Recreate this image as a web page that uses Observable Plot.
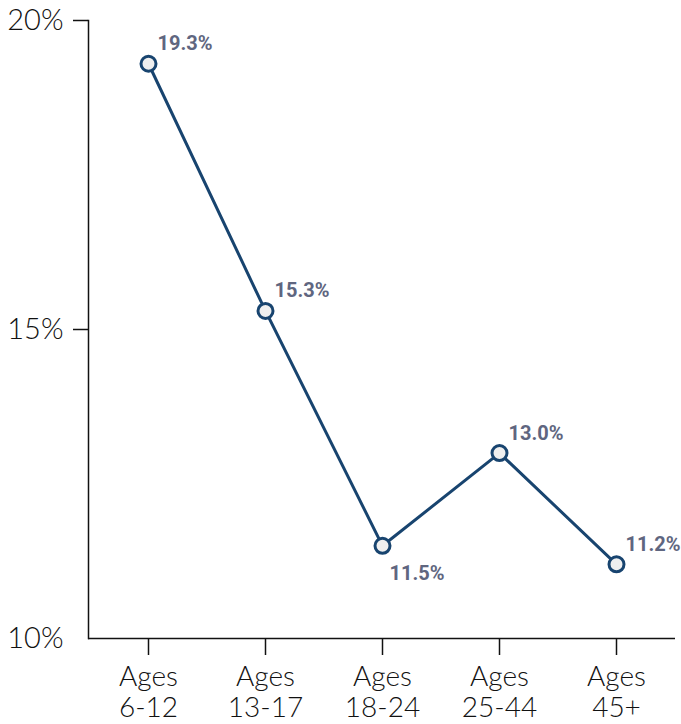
<!DOCTYPE html>
<html>
<head>
<meta charset="utf-8">
<script src="https://cdn.jsdelivr.net/npm/d3@7"></script>
<script src="https://cdn.jsdelivr.net/npm/@observablehq/plot@0.6"></script>
<style>
  body { margin: 0; background: #fff; }
</style>
</head>
<body>
<div id="chart"></div>
<script>
const categories = ["Ages\n6-12", "Ages\n13-17", "Ages\n18-24", "Ages\n25-44", "Ages\n45+"];
const values = [19.3, 15.3, 11.5, 13.0, 11.2];
const labelBelow = [false, false, true, false, false];
const yTicksMarked = [15, 20];
const yTicksBare = [10];

const data = categories.map((c, i) => ({ cat: c, v: values[i], below: labelBelow[i] }));

const navy = "#18446f";
const labelColor = "#5f6680";
const pct = d => d + "%";

const chart = Plot.plot({
  width: 681,
  height: 724,
  marginLeft: 88,
  marginRight: 6,
  marginTop: 20,
  marginBottom: 86,
  style: { fontFamily: "Lato, sans-serif", background: "#fff" },
  x: { type: "point", domain: categories, padding: 0.5 },
  y: { domain: [10, 20] },
  marks: [
    Plot.frame({ anchor: "left", stroke: "#111", strokeWidth: 1.5 }),
    Plot.ruleY([10], { stroke: "#111", strokeWidth: 1.5 }),
    Plot.axisY({
      ticks: yTicksMarked,
      tickFormat: pct,
      tickSize: 15,
      tickPadding: 10,
      fontSize: 29,
      fontWeight: 300,
      stroke: "#111",
      strokeWidth: 1.5,
      fill: "#111",
      label: null
    }),
    Plot.axisY({
      ticks: yTicksBare,
      tickFormat: pct,
      tickSize: 0,
      tickPadding: 25,
      fontSize: 29,
      fontWeight: 300,
      fill: "#111",
      label: null
    }),
    Plot.axisX({
      tickSize: 17,
      tickPadding: 9,
      fontSize: 28,
      fontWeight: 300,
      lineHeight: 1.1,
      stroke: "#111",
      strokeWidth: 1.5,
      fill: "#111",
      label: null
    }),
    Plot.line(data, { x: "cat", y: "v", stroke: navy, strokeWidth: 3 }),
    Plot.dot(data, { x: "cat", y: "v", r: 7.5, fill: "#efefef", stroke: navy, strokeWidth: 3 }),
    Plot.text(data.filter(d => !d.below), {
      x: "cat", y: "v", text: d => d.v.toFixed(1) + "%",
      textAnchor: "start", dx: 9, dy: -20,
      fill: labelColor, fontSize: 20, fontWeight: "bold", fontFamily: "Roboto, sans-serif"
    }),
    Plot.text(data.filter(d => d.below), {
      x: "cat", y: "v", text: d => d.v.toFixed(1) + "%",
      textAnchor: "start", dx: 7, dy: 28,
      fill: labelColor, fontSize: 20, fontWeight: "bold", fontFamily: "Roboto, sans-serif"
    })
  ]
});
document.getElementById("chart").appendChild(chart);
</script>
</body>
</html>
